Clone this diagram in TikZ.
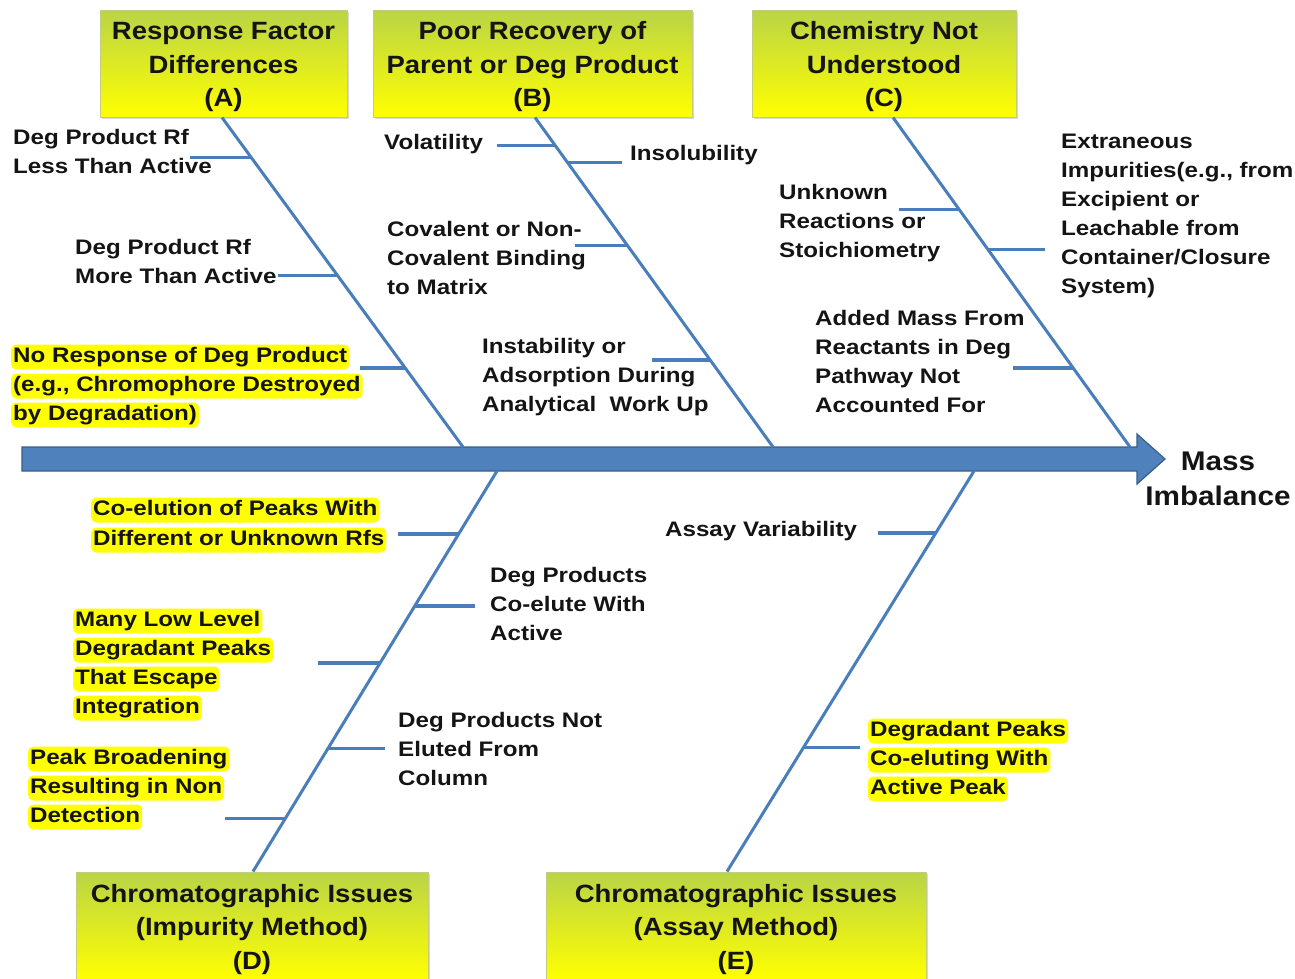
\documentclass[tikz,border=0pt]{standalone}
\usepackage{fontspec}
\setmainfont{Liberation Sans}[FakeStretch=1.1]
\newfontfamily\causefont{Liberation Sans}[FakeStretch=1.15]
\usetikzlibrary{calc,shadows}

\definecolor{bonecol}{RGB}{74,126,187}
\definecolor{spinefill}{RGB}{79,129,189}
\definecolor{spineedge}{RGB}{56,93,138}
\definecolor{boxtop}{RGB}{186,212,70}
\definecolor{boxbot}{RGB}{255,255,0}
\definecolor{boxedge}{RGB}{196,204,130}
\definecolor{hlyellow}{RGB}{255,255,0}
\definecolor{ink}{RGB}{20,20,20}

% extra height on the first title line pushes the title text a little lower
\newcommand{\titlestrut}{\rule{0pt}{24.5pt}}

\tikzset{
  bone/.style={draw=bonecol, line width=3pt},
  twig/.style={draw=bonecol, line width=3.5pt},
  catbox/.style={rectangle, top color=boxtop, bottom color=boxbot, draw=boxedge,
    line width=1pt, align=center, inner sep=0pt, text=ink,
    font=\fontsize{25}{33.5}\selectfont\bfseries,
    drop shadow={shadow xshift=1.5pt, shadow yshift=-1.5pt, opacity=0.3}},
  cause/.style={anchor=north west, align=left, inner sep=0pt, text=ink,
    font=\causefont\fontsize{21}{29}\selectfont\bfseries},
  hl/.style={anchor=base west, fill=hlyellow, rounded corners=5pt, inner xsep=2pt,
    inner ysep=0pt, text height=18pt, text depth=7pt, text=ink,
    font=\causefont\fontsize{21}{29}\selectfont\bfseries},
}

\begin{document}
\begin{tikzpicture}[x=1pt,y=-1pt]
\useasboundingbox (0,0) rectangle (1295,978);
\clip (0,0) rectangle (1295,978);

% category boxes
\node[catbox, minimum width=247, minimum height=107] (A) at (223.5,63.5) {\titlestrut Response Factor\\Differences\\(A)};
\node[catbox, minimum width=319, minimum height=107] (B) at (532.5,63.5) {\titlestrut Poor Recovery of\\Parent or Deg Product\\(B)};
\node[catbox, minimum width=264, minimum height=107] (C) at (884,63.5) {\titlestrut Chemistry Not\\Understood\\(C)};
\node[catbox, minimum width=352, minimum height=108] (D) at (252,926) {\titlestrut Chromatographic Issues\\(Impurity Method)\\(D)};
\node[catbox, minimum width=380, minimum height=108] (E) at (736,926) {\titlestrut Chromatographic Issues\\(Assay Method)\\(E)};

% spine
\coordinate (tail) at (22,459);
\coordinate (head) at (1165,459);
\filldraw[fill=spinefill, draw=spineedge, line width=1.2pt]
  (tail) ++(0,-12) -- (1137,447) -- (1137,434) -- (head) -- (1137,484) -- (1137,471) -- (22,471) -- cycle;

\node[align=center, inner sep=0pt, text=ink, font=\fontsize{27}{35}\selectfont\bfseries] (effect) at (1218,479) {Mass\\Imbalance};

% junctions on the spine
\coordinate (jA) at (463,447);
\coordinate (jB) at (773,447);
\coordinate (jC) at (1130,447);
\coordinate (jD) at (497,471);
\coordinate (jE) at (974,471);

% bone tops
\coordinate (tA) at ([xshift=-1.5pt]A.south);
\coordinate (tB) at ([xshift=2.5pt]B.south);
\coordinate (tC) at ([xshift=9pt]C.south);
\coordinate (tD) at ([xshift=1pt]D.north);
\coordinate (tE) at ([xshift=-9pt]E.north);

\draw[bone] (tA) -- (jA);
\draw[bone] (tB) -- (jB);
\draw[bone] (tC) -- (jC);
\draw[bone] (jD) -- (tD);
\draw[bone] (jE) -- (tE);

% points on the bones
\coordinate (kA1) at ($(tA)!.1212!(jA)$);
\coordinate (kA2) at ($(tA)!.4788!(jA)$);
\coordinate (kA3) at ($(tA)!.7606!(jA)$);
\coordinate (kB1) at ($(tB)!.0848!(jB)$);
\coordinate (kB2) at ($(tB)!.1364!(jB)$);
\coordinate (kB3) at ($(tB)!.3879!(jB)$);
\coordinate (kB4) at ($(tB)!.7364!(jB)$);
\coordinate (kC1) at ($(tC)!.2788!(jC)$);
\coordinate (kC2) at ($(tC)!.4000!(jC)$);
\coordinate (kC3) at ($(tC)!.7606!(jC)$);
\coordinate (kD1) at ($(jD)!.1571!(tD)$);
\coordinate (kD2) at ($(jD)!.3367!(tD)$);
\coordinate (kD3) at ($(jD)!.4788!(tD)$);
\coordinate (kD4) at ($(jD)!.6933!(tD)$);
\coordinate (kD5) at ($(jD)!.8678!(tD)$);
\coordinate (kE1) at ($(jE)!.1546!(tE)$);
\coordinate (kE2) at ($(jE)!.6908!(tE)$);

% free ends of the twigs
\coordinate (eA1) at (190,0);
\coordinate (eA2) at (278,0);
\coordinate (eA3) at (360,0);
\coordinate (eB1) at (497,0);
\coordinate (eB2) at (622,0);
\coordinate (eB3) at (575,0);
\coordinate (eB4) at (652,0);
\coordinate (eC1) at (899,0);
\coordinate (eC2) at (1045,0);
\coordinate (eC3) at (1013,0);
\coordinate (eD1) at (398,0);
\coordinate (eD2) at (475,0);
\coordinate (eD3) at (318,0);
\coordinate (eD4) at (385,0);
\coordinate (eD5) at (225,0);
\coordinate (eE1) at (878,0);
\coordinate (eE2) at (860,0);

\foreach \k in {A1,A2,A3,B1,B2,B3,B4,C1,C2,C3,D1,D2,D3,D4,D5,E1,E2}
  \draw[twig] (k\k) -- (k\k -| e\k);

% causes of A
\node[cause] (lA1) at (13,129.5) {Deg Product Rf\\Less Than Active};
\node[cause] (lA2) at (75,239.5) {Deg Product Rf\\More Than Active};
\node[hl] (lA3a) at (11,362.5) {No Response of Deg Product};
\node[hl] (lA3b) at (11,391.5) {(e.g., Chromophore Destroyed};
\node[hl] (lA3c) at (11,420.5) {by Degradation)};

% causes of B
\node[cause] (lB1) at (384,134.5) {Volatility};
\node[cause] (lB2) at (630,145.5) {Insolubility};
\node[cause] (lB3) at (387,221.5) {Covalent or Non-\\Covalent Binding\\to Matrix};
\node[cause] (lB4) at (482,338.5) {Instability or\\Adsorption During\\Analytical\ \ Work Up};

% causes of C
\node[cause] (lC1) at (779,184.5) {Unknown\\Reactions or\\Stoichiometry};
\node[cause] (lC2) at (1061,133.5) {Extraneous\\Impurities(e.g., from\\Excipient or\\Leachable from\\Container/Closure\\System)};
\node[cause] (lC3) at (815,310.5) {Added Mass From\\Reactants in Deg\\Pathway Not\\Accounted For};

% causes of D
\node[hl] (lD1a) at (91,515.5) {Co-elution of Peaks With};
\node[hl] (lD1b) at (91,545.5) {Different or Unknown Rfs};
\node[cause] (lD2) at (490,567.5) {Deg Products\\Co-elute With\\Active};
\node[hl] (lD3a) at (73,626.5) {Many Low Level};
\node[hl] (lD3b) at (73,655.5) {Degradant Peaks};
\node[hl] (lD3c) at (73,684.5) {That Escape};
\node[hl] (lD3d) at (73,713.5) {Integration};
\node[cause] (lD4) at (398,712.5) {Deg Products Not\\Eluted From\\Column};
\node[hl] (lD5a) at (28,764.5) {Peak Broadening};
\node[hl] (lD5b) at (28,793.5) {Resulting in Non};
\node[hl] (lD5c) at (28,822.5) {Detection};

% causes of E
\node[cause] (lE1) at (665,521.5) {Assay Variability};
\node[hl] (lE2a) at (868,736.5) {Degradant Peaks};
\node[hl] (lE2b) at (868,765.5) {Co-eluting With};
\node[hl] (lE2c) at (868,794.5) {Active Peak};
\end{tikzpicture}
\end{document}
